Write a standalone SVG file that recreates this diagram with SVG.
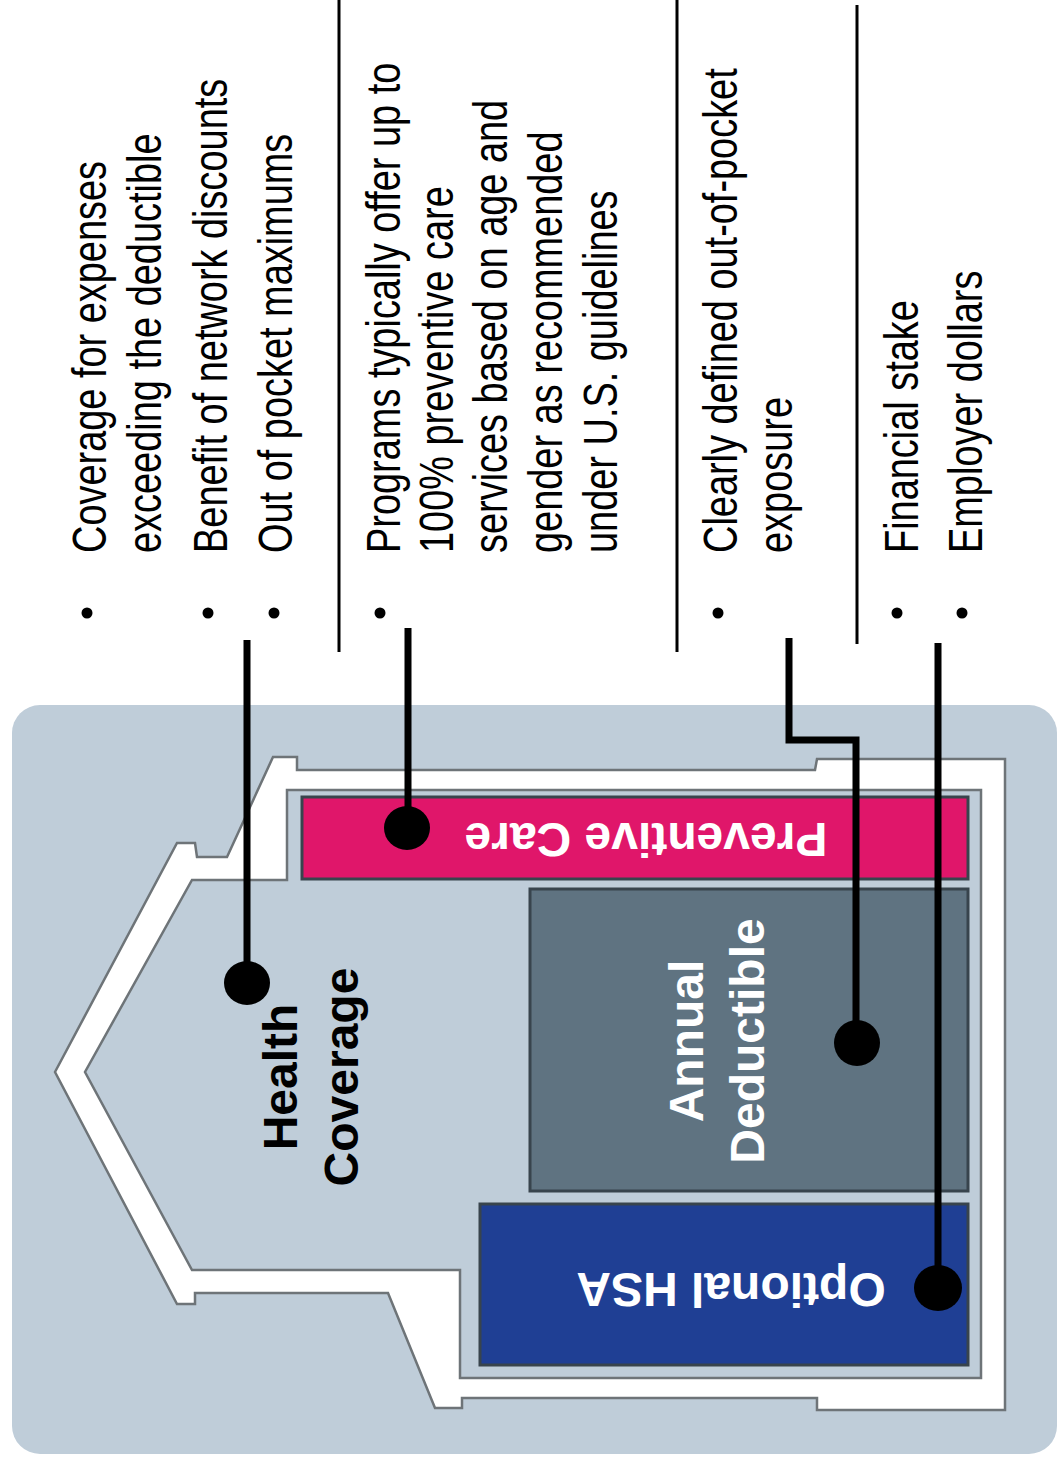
<svg xmlns="http://www.w3.org/2000/svg" width="1058" height="1463" viewBox="0 0 1058 1463">
<style>
.t{font-family:"Liberation Sans",Arial,sans-serif;font-size:48px;fill:#000}
.lb{font-family:"Liberation Sans",Arial,sans-serif;font-weight:bold;font-size:48px;text-anchor:middle}
.w{fill:#fff}
.k{fill:#000}
.sep{stroke:#000;stroke-width:3;fill:none}
.con{stroke:#000;stroke-width:7;fill:none}
.band{stroke:#6e7478;stroke-width:2.5}
.box{stroke:#38444d;stroke-width:3}
</style>
<rect width="1058" height="1463" fill="#fff"/>

<g id="separators">
<line class="sep" x1="339" y1="0" x2="339" y2="652"/>
<line class="sep" x1="677" y1="0" x2="677" y2="652"/>
<line class="sep" x1="857" y1="5" x2="857" y2="644"/>
</g>

<g id="bullets">
<circle cx="87" cy="613" r="5.5"/>
<circle cx="208" cy="613" r="5.5"/>
<circle cx="274" cy="613" r="5.5"/>
<circle cx="380" cy="613" r="5.5"/>
<circle cx="718" cy="613" r="5.5"/>
<circle cx="897" cy="613" r="5.5"/>
<circle cx="962" cy="613" r="5.5"/>
</g>

<g id="text-coverage">
<text class="t" transform="translate(106,553) rotate(-90) scale(0.79,1)">Coverage for expenses</text>
<text class="t" transform="translate(161,553) rotate(-90) scale(0.79,1)">exceeding the deductible</text>
<text class="t" transform="translate(227,553) rotate(-90) scale(0.79,1)">Benefit of network discounts</text>
<text class="t" transform="translate(292,553) rotate(-90) scale(0.79,1)">Out of pocket maximums</text>
</g>
<g id="text-preventive">
<text class="t" transform="translate(400,553) rotate(-90) scale(0.79,1)">Programs typically offer up to</text>
<text class="t" transform="translate(453,553) rotate(-90) scale(0.79,1)">100% preventive care</text>
<text class="t" transform="translate(507,553) rotate(-90) scale(0.79,1)">services based on age and</text>
<text class="t" transform="translate(562,553) rotate(-90) scale(0.79,1)">gender as recommended</text>
<text class="t" transform="translate(617,553) rotate(-90) scale(0.79,1)">under U.S. guidelines</text>
</g>
<g id="text-deductible">
<text class="t" transform="translate(737,553) rotate(-90) scale(0.79,1)">Clearly defined out-of-pocket</text>
<text class="t" transform="translate(792,553) rotate(-90) scale(0.79,1)">exposure</text>
</g>
<g id="text-hsa">
<text class="t" transform="translate(918,553) rotate(-90) scale(0.79,1)">Financial stake</text>
<text class="t" transform="translate(982,553) rotate(-90) scale(0.79,1)">Employer dollars</text>
</g>

<g id="panel">
<rect x="12" y="705" width="1045" height="749" rx="28" fill="#bfcdd9"/>
<polygon class="band" fill="#fff" points="55,1072 177,843 195,843 197,857 227,857 273,757 297,757 297,770 815,770 817,759 1005,759 1005,1410 817,1410 817,1398 462,1398 462,1408 435,1408 388,1293 195,1293 195,1304 177,1304"/>
<polygon class="band" fill="#bfcdd9" points="287,790 981,790 981,1378 460,1378 460,1270 192,1270 85,1072 192,880 287,880"/>
</g>

<g id="health-coverage">
<text class="lb k" transform="translate(297,1077) rotate(-90)">Health</text>
<text class="lb k" transform="translate(358,1077) rotate(-90)">Coverage</text>
</g>

<g id="preventive-care">
<rect class="box" x="302" y="797" width="666" height="82" fill="#e0166a"/>
<text class="lb w" transform="translate(646,823) rotate(180)">Preventive Care</text>
</g>

<g id="annual-deductible">
<rect class="box" x="530" y="889" width="438" height="302" fill="#5f7381"/>
<text class="lb w" font-size="47" transform="translate(703,1041) rotate(-90)">Annual</text>
<text class="lb w" font-size="47" transform="translate(764,1041) rotate(-90)">Deductible</text>
</g>

<g id="optional-hsa">
<rect class="box" x="480" y="1204" width="488" height="161" fill="#1f3f94"/>
<text class="lb w" font-size="47" transform="translate(731,1273) rotate(180)">Optional HSA</text>
</g>

<g id="connectors">
<polyline class="con" points="247,640 247,983"/>
<polyline class="con" points="408,628 408,828"/>
<polyline class="con" points="789,638 789,740 856,740 856,1043"/>
<polyline class="con" points="938,643 938,1288"/>
<ellipse cx="247" cy="983" rx="23" ry="22"/>
<ellipse cx="407" cy="828" rx="23" ry="22"/>
<ellipse cx="857" cy="1043" rx="23" ry="23"/>
<ellipse cx="938" cy="1288" rx="24" ry="23"/>
</g>
</svg>
